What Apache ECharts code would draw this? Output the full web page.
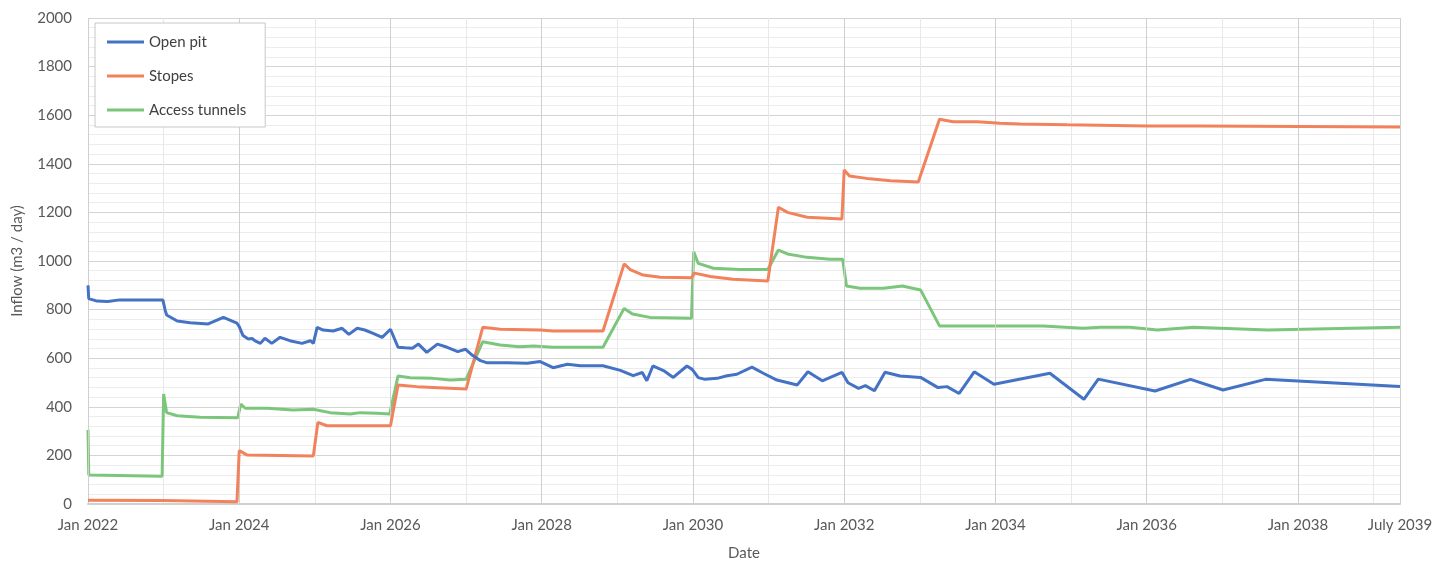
<!DOCTYPE html>
<html>
<head>
<meta charset="utf-8">
<script src="https://cdn.jsdelivr.net/npm/echarts@6/dist/echarts.min.js"></script>
<style>
html,body{margin:0;padding:0;background:#fff;}
#chart{width:1446px;height:562px;}
</style>
</head>
<body>
<div id="chart"></div>
<script>
// Dates as decimal years (2022.0 = Jan 2022)
const openPitYears = [2022.00,2022.01,2022.12,2022.26,2022.42,2022.99,2023.02,2023.04,2023.18,2023.35,2023.59,2023.79,2023.97,2024.00,2024.05,2024.12,2024.17,2024.21,2024.28,2024.34,2024.43,2024.54,2024.67,2024.83,2024.94,2024.98,2025.03,2025.11,2025.24,2025.36,2025.45,2025.56,2025.66,2025.77,2025.89,2026.00,2026.10,2026.19,2026.29,2026.37,2026.48,2026.62,2026.75,2026.89,2026.99,2027.08,2027.19,2027.28,2027.54,2027.81,2027.98,2028.15,2028.34,2028.51,2028.81,2029.04,2029.21,2029.33,2029.39,2029.47,2029.61,2029.74,2029.92,2029.99,2030.07,2030.16,2030.32,2030.45,2030.58,2030.78,2030.93,2031.11,2031.38,2031.52,2031.71,2031.97,2032.05,2032.19,2032.28,2032.40,2032.54,2032.74,2033.01,2033.24,2033.36,2033.52,2033.72,2033.98,2034.72,2035.17,2035.36,2036.11,2036.58,2037.01,2037.57,2039.35];
const openPitValues = [900,845,835,833,840,840,798,778,753,746,741,768,744,730,693,679,681,671,661,682,661,686,672,661,672,661,727,716,712,723,698,723,716,702,686,719,645,643,641,658,624,658,645,627,637,613,590,581,581,579,586,561,575,569,569,550,528,541,507,568,549,521,568,554,520,513,517,528,534,563,538,510,490,544,507,542,499,476,487,466,542,527,521,479,483,455,544,493,538,431,514,465,513,469,513,484];

const stopesYears = [2022.00,2022.99,2023.01,2023.97,2024.00,2024.10,2024.98,2025.04,2025.16,2026.00,2026.10,2026.35,2027.00,2027.22,2027.45,2027.98,2028.15,2028.81,2029.09,2029.17,2029.34,2029.57,2029.98,2030.02,2030.23,2030.53,2030.99,2031.13,2031.25,2031.51,2031.97,2032.00,2032.07,2032.34,2032.61,2032.98,2033.26,2033.44,2033.76,2034.06,2034.33,2034.95,2036.01,2036.71,2038.03,2039.35];
const stopesValues = [15,14,9,9,220,202,198,336,322,322,490,483,473,727,719,716,712,712,988,965,942,933,931,950,936,925,918,1221,1200,1180,1173,1375,1350,1338,1330,1325,1583,1573,1573,1567,1564,1561,1556,1556,1554,1551];

const tunnelsYears = [2022.00,2022.01,2022.98,2023.00,2023.04,2023.18,2023.48,2023.98,2024.02,2024.08,2024.37,2024.71,2024.98,2025.20,2025.47,2025.60,2025.82,2025.99,2026.10,2026.26,2026.56,2026.79,2027.00,2027.22,2027.45,2027.71,2027.89,2028.15,2028.81,2029.09,2029.20,2029.43,2029.98,2030.01,2030.07,2030.27,2030.62,2030.99,2031.13,2031.25,2031.51,2031.81,2031.98,2032.03,2032.21,2032.52,2032.77,2033.01,2033.26,2034.06,2034.63,2035.16,2035.39,2035.78,2036.14,2036.62,2037.60,2039.35];
const tunnelsValues = [305,119,114,453,376,363,357,355,411,394,394,387,390,376,370,376,373,370,527,520,517,510,513,668,654,647,650,645,645,805,782,768,764,1038,990,970,965,965,1045,1029,1015,1007,1007,897,888,888,897,881,733,733,733,723,727,727,716,727,716,727];

const seriesNames = ['Open pit','Stopes','Access tunnels'];
const xMin = 2022, xMax = 2039.35;
const lastLabel = 'July 2039';
const yTicks = [0,200,400,600,800,1000,1200,1400,1600,1800,2000];

function zip(xs, ys){ return xs.map((x,i)=>[x, ys[i]]); }

const colors = ['#4472C4','#F2825C','#7CC67C'];
const font = 'Lato, "Open Sans", sans-serif';

const chart = echarts.init(document.getElementById('chart'), null, {renderer:'canvas'});
chart.setOption({
  animation:false,
  backgroundColor:'#ffffff',
  color: colors,
  grid:{left:88,right:46,top:18,bottom:58,containLabel:false,outerBoundsMode:'none'},
  legend:{
    orient:'vertical',
    left:95, top:23,
    data: seriesNames,
    icon:'rect',
    itemWidth:37, itemHeight:3,
    itemGap:14,
    padding:[9,19,7,12],
    borderColor:'#c8c8c8', borderWidth:1,
    backgroundColor:'#ffffff',
    textStyle:{fontFamily:font,fontSize:15,color:'#404040',lineHeight:20}
  },
  xAxis:[{
    type:'value', min:xMin, max:xMax, interval:2, z:3,
    name:'Date', nameLocation:'middle', nameGap:42,
    nameTextStyle:{fontFamily:font,fontSize:15,color:'#595959'},
    axisLine:{show:true,lineStyle:{color:'#d0d0d0',width:2}},
    axisTick:{show:false},
    axisLabel:{fontFamily:font,fontSize:15,color:'#595959',margin:14,
      formatter:function(v){ if (Math.abs(v-xMax)<1e-6) return lastLabel; return 'Jan ' + Math.round(v); }},
    splitLine:{show:true,lineStyle:{color:'#cfcfcf',width:1}}
  },{
    type:'value', min:xMin, max:xMax, interval:1, z:1,
    axisLine:{show:false}, axisTick:{show:false}, axisLabel:{show:false},
    splitLine:{show:true,lineStyle:{color:'#e8e8e8',width:1}}
  }],
  yAxis:{
    type:'value', min:yTicks[0], max:yTicks[yTicks.length-1], interval:200,
    name:'Inflow (m3 / day)', nameLocation:'middle', nameGap:63, nameRotate:90,
    nameTextStyle:{fontFamily:font,fontSize:15,color:'#595959'},
    axisLine:{show:false}, axisTick:{show:false},
    axisLabel:{fontFamily:font,fontSize:15,color:'#595959',margin:16,formatter:function(v){return String(v);}},
    splitLine:{show:true,lineStyle:{color:'#d4d4d4',width:1}},
    minorTick:{show:false,splitNumber:5},
    minorSplitLine:{show:true,lineStyle:{color:'#ececec',width:1}}
  },
  series:[
    {name:seriesNames[0],type:'line',xAxisIndex:0,showSymbol:false,symbol:'none',lineStyle:{width:3,color:colors[0]},data:zip(openPitYears,openPitValues),z:4},
    {name:seriesNames[1],type:'line',xAxisIndex:0,showSymbol:false,symbol:'none',lineStyle:{width:3,color:colors[1]},data:zip(stopesYears,stopesValues),z:3},
    {name:seriesNames[2],type:'line',xAxisIndex:0,showSymbol:false,symbol:'none',lineStyle:{width:3,color:colors[2]},data:zip(tunnelsYears,tunnelsValues),z:2}
  ]
});
</script>
</body>
</html>
